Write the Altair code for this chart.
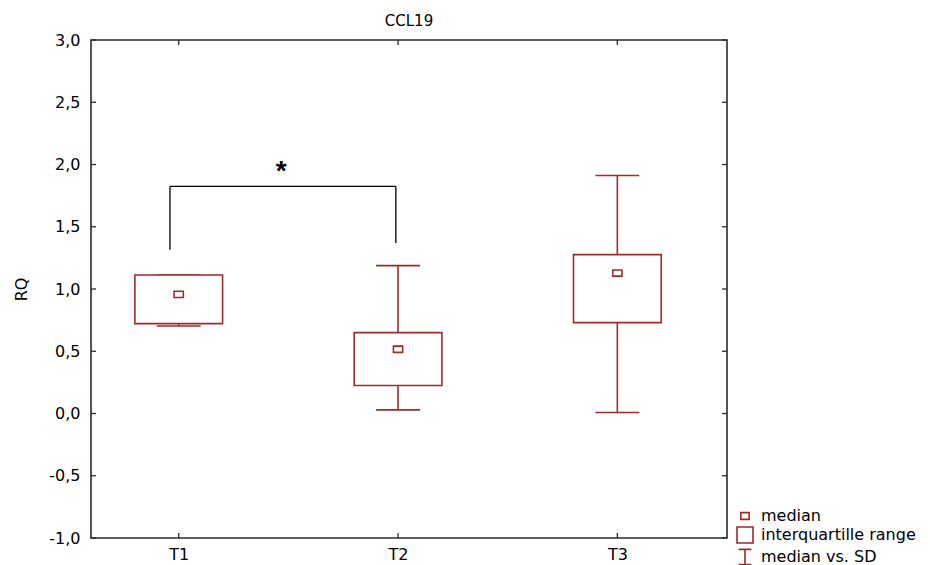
import altair as alt
import pandas as pd

# ---- data ----
categories = ["T1", "T2", "T3"]
positions = [1, 2, 3]
q1 = [0.722, 0.225, 0.730]
q3 = [1.112, 0.650, 1.276]
medians = [0.957, 0.516, 1.128]
sd_low = [0.703, 0.029, 0.008]
sd_high = [1.112, 1.188, 1.912]

# significance bracket (T1 vs T2)
bracket_x = [0.96, 1.99]
bracket_top = 1.824
bracket_bottom = [1.316, 1.369]
star_x = 1.467
star_y = 1.875

y_ticks = [-1.0, -0.5, 0.0, 0.5, 1.0, 1.5, 2.0, 2.5, 3.0]
legend_labels = ["median", "interquartille range", "median vs. SD"]

RED = "#9e2a2b"
FRAME = "#2a2a2a"
FONT = "DejaVu Sans"
W, H = 636, 498

df = pd.DataFrame({
    "cat": categories, "pos": positions, "q1": q1, "q3": q3,
    "median": medians, "lo": sd_low, "hi": sd_high,
})

xscale = alt.Scale(domain=[0.6, 3.5], nice=False, zero=False)
yscale = alt.Scale(domain=[-1.0, 3.0], nice=False, zero=False)

label_expr_x = "[" + ",".join("'%s'" % c for c in categories) + "][datum.value - 1]"
label_expr_y = "replace((datum.value < 0 ? '-' : '') + format(abs(datum.value), '.1f'), '.', ',')"

x_axis = alt.Axis(values=positions, labelExpr=label_expr_x, title=None, grid=False,
                  ticks=False, tickSize=0, domain=False, labelPadding=8,
                  labelFontSize=16, labelFont=FONT, labelColor="black")
y_axis = alt.Axis(values=y_ticks, labelExpr=label_expr_y, title="RQ", grid=False,
                  ticks=False, tickSize=0, domain=False, labelPadding=11,
                  labelFontSize=16, labelFont=FONT, labelColor="black",
                  titleFontSize=16, titleFont=FONT, titleFontWeight="normal",
                  titleColor="black", titleX=-70, titleY=H / 2, titleAngle=270,
                  titleBaseline="middle", titleAlign="center")

base = alt.Chart(df)

whisker = base.mark_rule(color=RED, strokeWidth=1.6).encode(
    x=alt.X("pos:Q", scale=xscale, axis=x_axis),
    y=alt.Y("lo:Q", scale=yscale, axis=y_axis),
    y2="hi:Q",
)

caps_lo = base.transform_calculate(a="datum.pos - 0.1", b="datum.pos + 0.1").mark_rule(
    color=RED, strokeWidth=1.6).encode(
    x=alt.X("a:Q"), x2="b:Q", y=alt.Y("lo:Q"))
caps_hi = base.transform_calculate(a="datum.pos - 0.1", b="datum.pos + 0.1").mark_rule(
    color=RED, strokeWidth=1.6).encode(
    x=alt.X("a:Q"), x2="b:Q", y=alt.Y("hi:Q"))

box = base.transform_calculate(a="datum.pos - 0.2", b="datum.pos + 0.2").mark_rect(
    fill="white", stroke=RED, strokeWidth=1.6).encode(
    x=alt.X("a:Q"), x2="b:Q",
    y=alt.Y("q1:Q"), y2="q3:Q")

med = base.mark_point(
    shape="M-1,-0.67L1,-0.67L1,0.67L-1,0.67Z", size=85, color=RED,
    filled=False, strokeWidth=1.6, opacity=1).encode(
    x=alt.X("pos:Q"), y=alt.Y("median:Q"))

# bracket
br_df = pd.DataFrame({"x": bracket_x, "ylo": bracket_bottom, "yhi": [bracket_top] * 2})
br_v = alt.Chart(br_df).mark_rule(color="black", strokeWidth=1.3).encode(
    x=alt.X("x:Q"), y=alt.Y("ylo:Q"), y2="yhi:Q")
br_h = alt.Chart(pd.DataFrame({"x1": [bracket_x[0]], "x2": [bracket_x[1]], "y": [bracket_top]})).mark_rule(
    color="black", strokeWidth=1.3).encode(
    x=alt.X("x1:Q"), x2="x2:Q", y=alt.Y("y:Q"))
star = alt.Chart(pd.DataFrame({"x": [star_x], "y": [star_y], "t": ["*"]})).mark_text(
    fontSize=28, font="Liberation Sans", fontWeight="bold", color="black",
    baseline="alphabetic").encode(
    x=alt.X("x:Q"), y=alt.Y("y:Q"), text="t:N")

# inward ticks
yt = pd.DataFrame({"v": y_ticks})
xt = pd.DataFrame({"v": positions})
tick_l = alt.Chart(yt).mark_rule(color=FRAME, strokeWidth=1.3).encode(
    y=alt.Y("v:Q"), x=alt.value(0), x2=alt.value(5))
tick_r = alt.Chart(yt).mark_rule(color=FRAME, strokeWidth=1.3).encode(
    y=alt.Y("v:Q"), x=alt.value(W - 5), x2=alt.value(W))
tick_b = alt.Chart(xt).mark_rule(color=FRAME, strokeWidth=1.3).encode(
    x=alt.X("v:Q"), y=alt.value(H - 5), y2=alt.value(H))
tick_t = alt.Chart(xt).mark_rule(color=FRAME, strokeWidth=1.3).encode(
    x=alt.X("v:Q"), y=alt.value(0), y2=alt.value(5))

# legend
legend_paths = [
    "M-0.52,-0.42L0.52,-0.42L0.52,0.42L-0.52,0.42Z",
    "M-1,-1L1,-1L1,1L-1,1Z",
    "M0,-0.95L0,0.95M-0.8,-0.95L0.8,-0.95M-0.8,0.95L0.8,0.95",
]
leg = alt.Chart(pd.DataFrame({"kind": legend_labels})).mark_point(
    opacity=0, filled=False, color=RED, size=256).encode(
    x=alt.value(W / 2), y=alt.value(H / 2),
    shape=alt.Shape("kind:N", scale=alt.Scale(domain=legend_labels, range=legend_paths),
                    legend=alt.Legend(title=None, orient="none", legendX=645, legendY=467,
                                      symbolSize=256, symbolStrokeColor=RED,
                                      symbolFillColor="transparent", symbolOpacity=1,
                                      symbolStrokeWidth=1.6, labelFontSize=16,
                                      labelFont=FONT, labelColor="black", labelOffset=7,
                                      rowPadding=-1, padding=0, labelLimit=300)))

chart = alt.layer(
    whisker, caps_lo, caps_hi, box, med, br_v, br_h, star,
    tick_l, tick_r, tick_b, tick_t, leg
).properties(
    width=W, height=H,
    background="white",
    title=alt.TitleParams("CCL19", fontSize=15, font=FONT, fontWeight="normal",
                          color="black", anchor="middle", offset=3, frame="group"),
    autosize=alt.AutoSizeParams(type="none"),
    padding={"left": 83, "top": 32, "right": 195, "bottom": 30},
).configure_view(
    stroke=FRAME, strokeWidth=1.6
)

chart.save("out.html", embed_options={"renderer": "svg", "actions": False})
